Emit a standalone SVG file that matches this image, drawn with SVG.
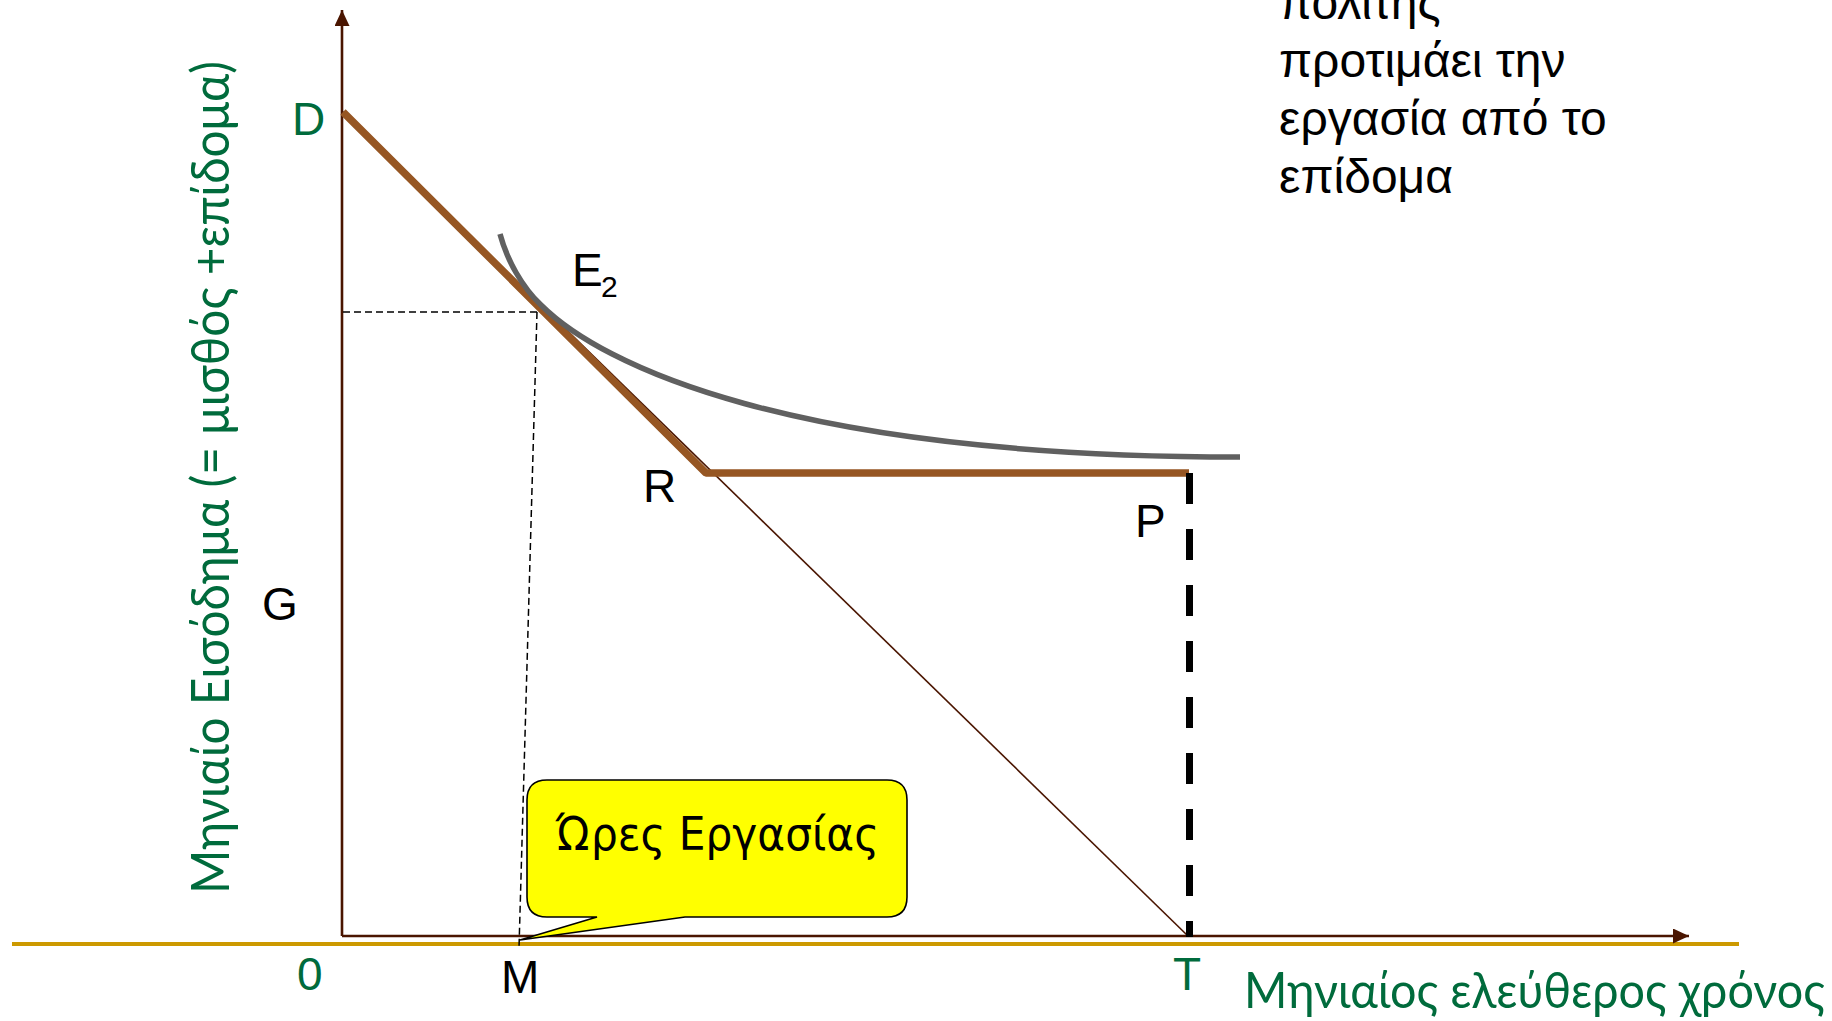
<svg xmlns="http://www.w3.org/2000/svg" width="1832" height="1021" viewBox="0 0 1832 1021">
<defs>
<style>
.lbl{font-family:"Liberation Sans",Arial,sans-serif;font-size:46px;fill:#000}
.grn{fill:#006B3C}
.ax{stroke:#4A1500;stroke-width:2.6;fill:none}
.cal{font-family:Lato,"Open Sans",sans-serif;fill:#006B3C}
.note{font-family:"Liberation Sans",Arial,sans-serif;font-size:48px;fill:#000}
</style>
<marker id="arr" markerUnits="userSpaceOnUse" markerWidth="17" markerHeight="16" refX="16" refY="7.5" orient="auto">
<path d="M0,0 L16,7.5 L0,15 Z" fill="#4A1500"/>
</marker>
</defs>
<rect width="1832" height="1021" fill="#fff"/>
<g id="connectors">
<line x1="12" y1="944" x2="1739" y2="944" stroke="#CC9900" stroke-width="4"/>
<line class="ax" x1="342" y1="936" x2="342" y2="10" marker-end="url(#arr)"/>
<line class="ax" x1="342" y1="936" x2="1689" y2="936" marker-end="url(#arr)"/>
<line x1="342" y1="111" x2="1188" y2="936" stroke="#4A1500" stroke-width="1.6"/>
<line x1="343" y1="312" x2="537" y2="312" stroke="#000" stroke-width="1.5" stroke-dasharray="7 4"/>
<line x1="537" y1="312" x2="519" y2="948" stroke="#000" stroke-width="1.5" stroke-dasharray="7 4"/>
<polyline points="343,112 706,473 1189,473" fill="none" stroke="#965623" stroke-width="7.5" stroke-linejoin="bevel"/>
<path d="M500,234 C507,260 522,287 541,305 C601,365 790,457 1240,457" fill="none" stroke="#606060" stroke-width="5.5"/>
<line x1="1189.5" y1="473" x2="1189.5" y2="937" stroke="#000" stroke-width="7" stroke-dasharray="31 25"/>
</g>
<g id="callout">
<path d="M547,780 H887 Q907,780 907,800 V897 Q907,917 887,917 H685 L520,940 L597,917 H547 Q527,917 527,897 V800 Q527,780 547,780 Z" fill="#FFFF00" stroke="#000" stroke-width="1.6"/>
<text x="556" y="850" font-family="'DejaVu Sans',sans-serif" font-size="46" textLength="323" lengthAdjust="spacingAndGlyphs">Ώρες Εργασίας</text>
</g>
<g id="label-D"><text class="lbl grn" x="292" y="135">D</text></g>
<g id="label-E2"><text class="lbl" x="572" y="286">E</text><text class="lbl" x="601" y="297" style="font-size:30px">2</text></g>
<g id="label-R"><text class="lbl" x="643" y="502">R</text></g>
<g id="label-P"><text class="lbl" x="1135" y="537">P</text></g>
<g id="label-G"><text class="lbl" x="262" y="620">G</text></g>
<g id="label-0"><text class="lbl grn" x="297" y="990">0</text></g>
<g id="label-M"><text class="lbl" x="501" y="993">M</text></g>
<g id="label-T"><text class="lbl grn" x="1173" y="990">T</text></g>
<g id="x-title"><text class="cal" x="1244" y="1008" font-size="50" textLength="581" lengthAdjust="spacingAndGlyphs">Μηνιαίος ελεύθερος χρόνος</text></g>
<g id="y-title"><text class="cal" transform="translate(229,894) rotate(-90)" x="0" y="0" font-size="52" textLength="833" lengthAdjust="spacingAndGlyphs">Μηνιαίο Εισόδημα (= μισθός +επίδομα)</text></g>
<g id="note">
<text class="note" x="1279" y="19">πολίτης</text>
<text class="note" x="1279" y="77">προτιμάει την</text>
<text class="note" x="1279" y="135">εργασία από το</text>
<text class="note" x="1279" y="193">επίδομα</text>
</g>
</svg>
